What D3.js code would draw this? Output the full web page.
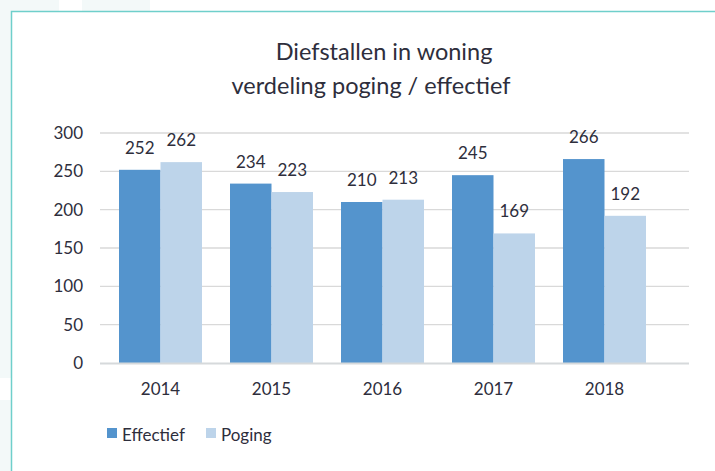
<!DOCTYPE html>
<html>
<head>
<meta charset="utf-8">
<script src="https://cdn.jsdelivr.net/npm/d3@7"></script>
<style>
  html, body { margin: 0; padding: 0; background: #f3f9f9; }
  svg { display: block; font-family: Lato, "Open Sans", sans-serif; }
</style>
</head>
<body>
<div id="chart"></div>
<script>
const years = ["2014", "2015", "2016", "2017", "2018"];
const effectief = [252, 234, 210, 245, 266];
const poging = [262, 223, 213, 169, 192];
const seriesNames = ["Effectief", "Poging"];
const yTicks = [0, 50, 100, 150, 200, 250, 300];
const titleLines = ["Diefstallen in woning", "verdeling poging / effectief"];

const colors = { Effectief: "#5494cd", Poging: "#bdd4ea" };
const textColor = "#2e2e3c";
const fs = 17;

const W = 715, H = 471;
const svg = d3.select("#chart").append("svg").attr("width", W).attr("height", H);

// page background bits outside the chart frame
svg.append("rect").attr("x", 0).attr("y", 0).attr("width", W).attr("height", H).attr("fill", "#f3f9f9");
svg.append("rect").attr("x", 59).attr("y", 0).attr("width", 23).attr("height", 11).attr("fill", "#fff");
svg.append("rect").attr("x", 150).attr("y", 0).attr("width", W - 150).attr("height", 11).attr("fill", "#fff");
svg.append("rect").attr("x", 0).attr("y", 378).attr("width", 11).attr("height", 22).attr("fill", "#fff");

// chart frame
svg.append("rect").attr("x", 12).attr("y", 12).attr("width", W).attr("height", H).attr("fill", "#fff");
svg.append("path").attr("d", `M11.5,${H} V11.5 H${W}`)
  .attr("fill", "none").attr("stroke", "#6fcfcb").attr("stroke-width", 1.5);

// title
const titleX = [384, 371];
svg.append("g").selectAll("text").data(titleLines).join("text")
  .attr("x", (d, i) => titleX[i])
  .attr("y", (d, i) => 60 + i * 34)
  .attr("text-anchor", "middle")
  .attr("font-size", 23.5)
  .attr("fill", textColor)
  .text(d => d);

// scales
const y = d3.scaleLinear().domain([0, 300]).range([363, 133]);
const x = d3.scaleBand().domain(years).range([105, 660]).paddingInner(0).paddingOuter(0);
const xs = d3.scaleBand().domain(seriesNames).range([0, 83]).padding(0);
const barOffset = (x.bandwidth() - 83) / 2;

// gridlines
svg.append("g").selectAll("line").data(yTicks.filter(t => t > 0)).join("line")
  .attr("x1", 100).attr("x2", 689)
  .attr("y1", d => y(d)).attr("y2", d => y(d))
  .attr("stroke", "#d9d9d9").attr("stroke-width", 1.3);

// y axis labels
const yAxis = svg.append("g").attr("transform", "translate(90,0)")
  .call(d3.axisLeft(y).tickValues(yTicks).tickSize(0).tickPadding(7));
yAxis.select(".domain").remove();
yAxis.selectAll("text").attr("font-size", fs).attr("fill", textColor).attr("font-family", "Lato, sans-serif");

// bars
const data = years.map((yr, i) => ({ year: yr, values: [
  { key: "Effectief", v: effectief[i] },
  { key: "Poging", v: poging[i] }
] }));

const groups = svg.append("g").selectAll("g").data(data).join("g")
  .attr("transform", d => `translate(${x(d.year) + barOffset},0)`);

groups.selectAll("rect").data(d => d.values).join("rect")
  .attr("x", d => xs(d.key))
  .attr("width", xs.bandwidth())
  .attr("y", d => y(d.v))
  .attr("height", d => y(0) - y(d.v))
  .attr("fill", d => colors[d.key]);

groups.selectAll("text").data(d => d.values).join("text")
  .attr("x", d => xs(d.key) + xs.bandwidth() / 2)
  .attr("y", d => y(d.v) - 16)
  .attr("text-anchor", "middle")
  .attr("font-size", fs)
  .attr("fill", textColor)
  .text(d => d.v);

// baseline
svg.append("line").attr("x1", 100).attr("x2", 689)
  .attr("y1", y(0) + 0.5).attr("y2", y(0) + 0.5)
  .attr("stroke", "#d6d9db").attr("stroke-width", 2);

// x axis labels
const xAxis = svg.append("g").attr("transform", `translate(0,${y(0)})`)
  .call(d3.axisBottom(x).tickSize(0).tickPadding(20));
xAxis.select(".domain").remove();
xAxis.selectAll("text").attr("font-size", fs).attr("fill", textColor).attr("font-family", "Lato, sans-serif");

// legend
const legendX = [107, 206];
const legend = svg.append("g").selectAll("g").data(seriesNames).join("g")
  .attr("transform", (d, i) => `translate(${legendX[i]},428)`);
legend.append("rect").attr("width", 10).attr("height", 10).attr("fill", d => colors[d]);
legend.append("text").attr("x", 15).attr("y", 13)
  .attr("font-size", fs).attr("fill", textColor).text(d => d);
</script>
</body>
</html>
